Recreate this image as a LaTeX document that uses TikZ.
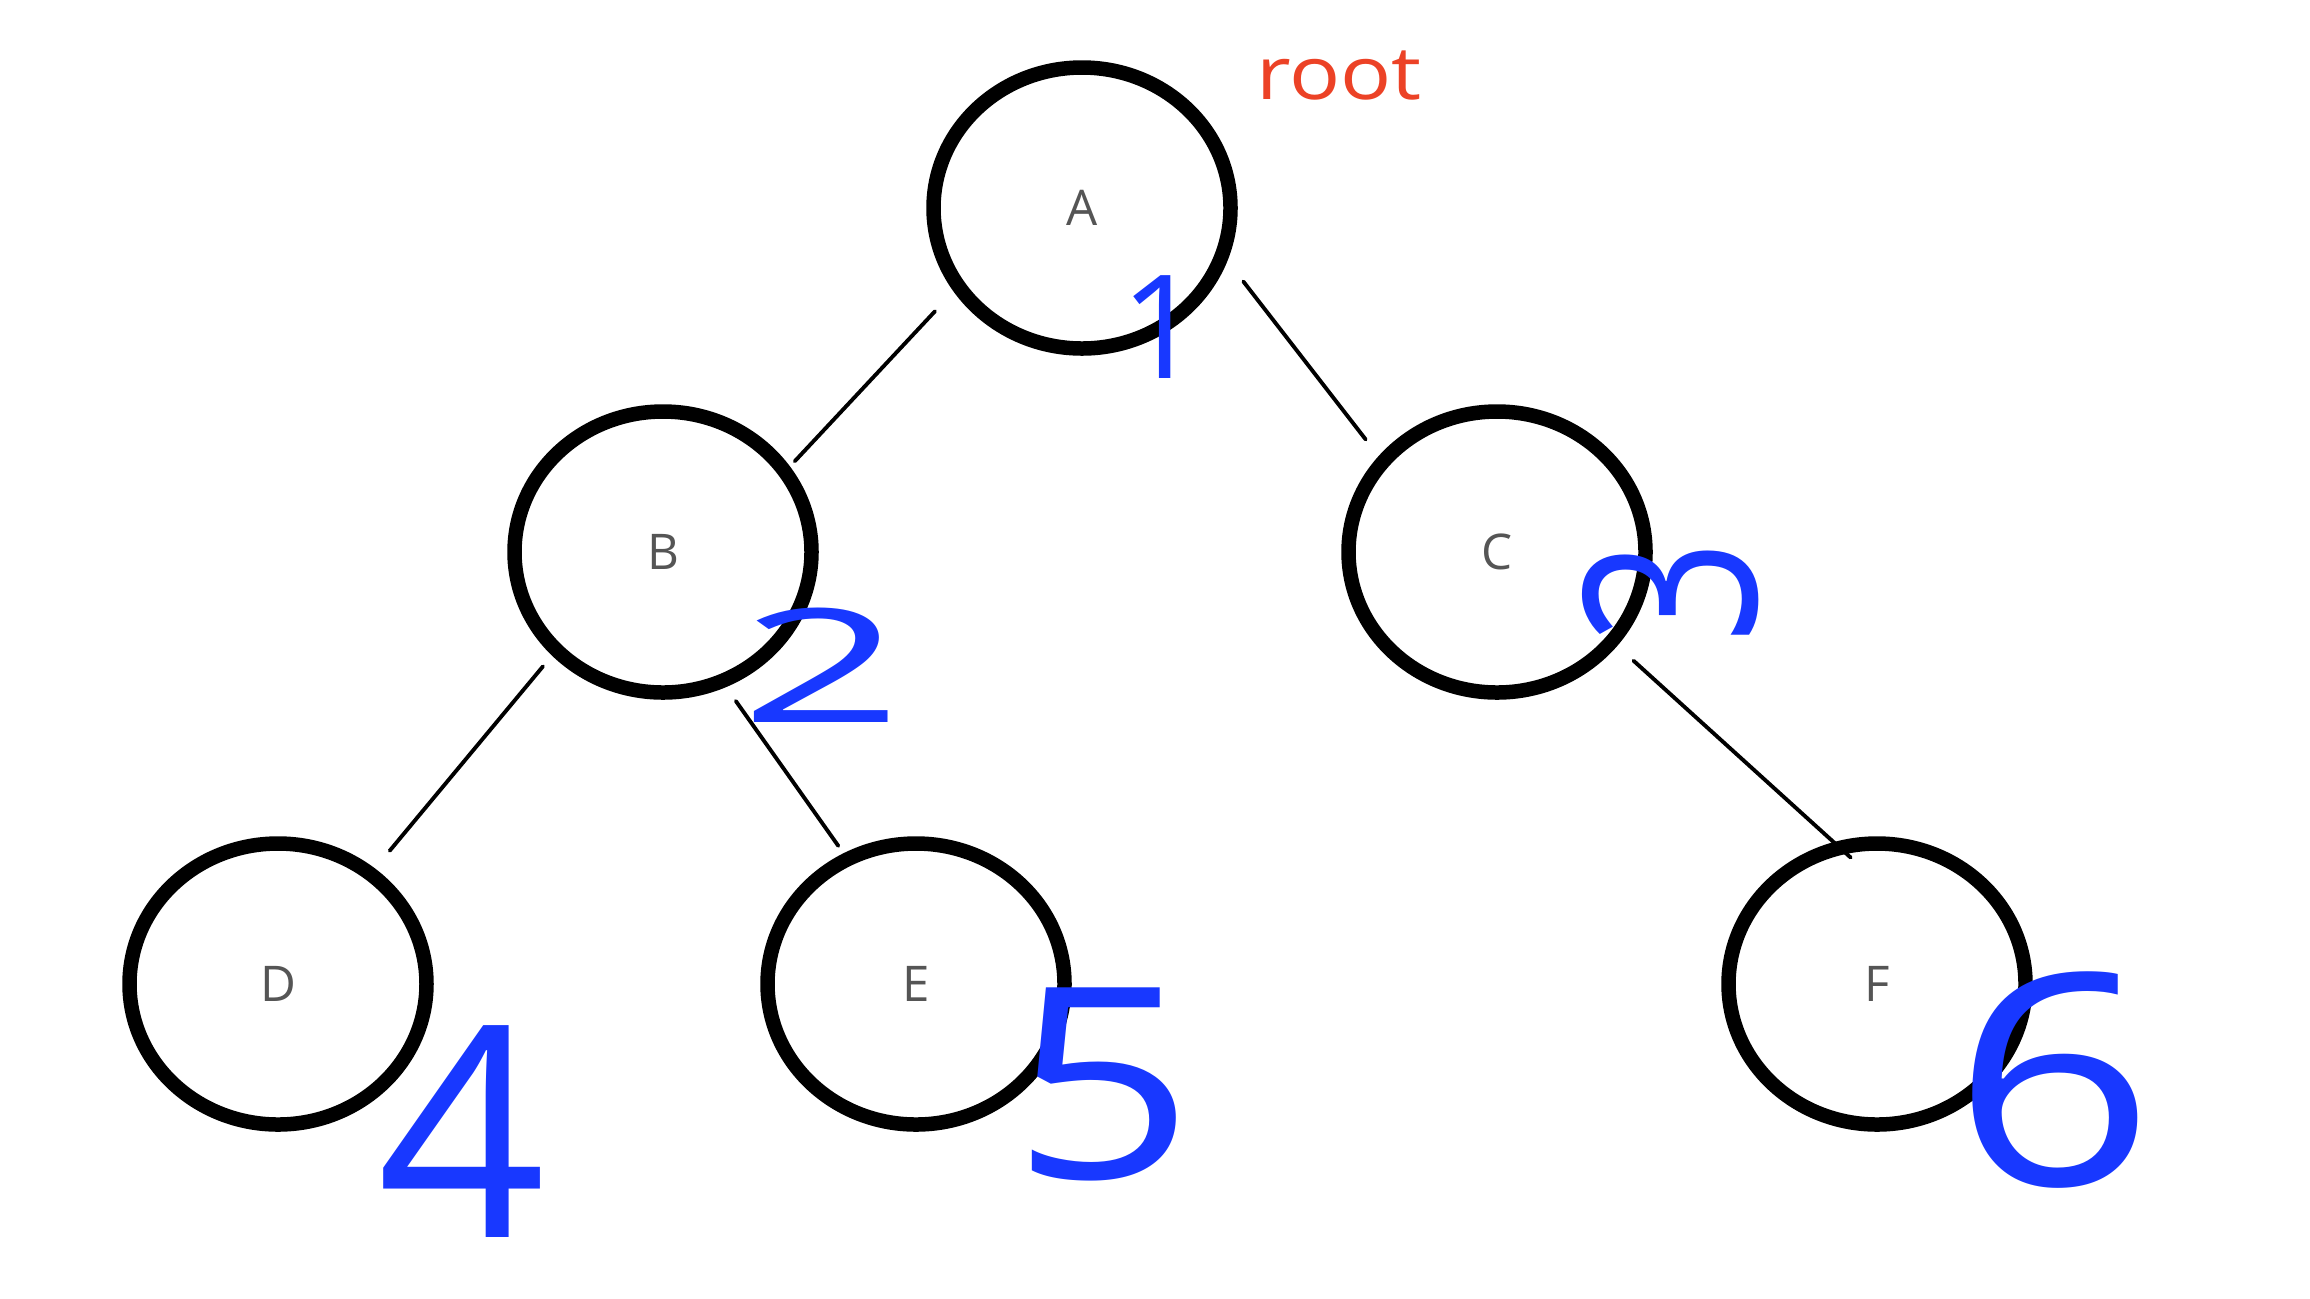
\documentclass[tikz,border=0pt]{standalone}
\usepackage{fontspec}
\setmainfont{Open Sans}
\usepackage{graphicx}
\usetikzlibrary{shapes.geometric}
\definecolor{inkblue}{RGB}{24,56,255}
\definecolor{inkred}{RGB}{236,66,38}
\definecolor{labelgray}{RGB}{85,85,85}

\begin{document}
\begin{tikzpicture}[
  treenode/.style={draw=black, ellipse, line width=0.145cm, minimum width=2.97cm,
    minimum height=2.81cm, inner sep=0pt, text=labelgray, font=\fontsize{14}{16}\selectfont},
  edge/.style={line width=1.1pt, line cap=round},
  order/.style={text=inkblue, inner sep=0pt}
]
\useasboundingbox (0,0) rectangle (23.1,-12.98);
% the tree
\node[treenode] (A) at (10.82,-2.08) {A};
\node[treenode] (B) at (6.63,-5.52) {B};
\node[treenode] (C) at (14.97,-5.52) {C};
\node[treenode] (D) at (2.78,-9.84) {D};
\node[treenode] (E) at (9.16,-9.84) {E};
\node[treenode] (F) at (18.77,-9.84) {F};
\draw[edge, shorten <=0.27cm, shorten >=0.07cm] (A.213) -- (B.34);
\draw[edge, shorten <=0.26cm, shorten >=0.21cm] (A.340) -- (C.141);
\draw[edge, shorten <=0.14cm, shorten >=0.23cm] (B.223) -- (D.50);
\draw[edge, shorten <=0.17cm, shorten >=0.09cm] (B.295) -- (E.119);
\draw[edge, shorten <=0.22cm, shorten >=-0.23cm] (C.322) -- (F.107);
% root mark and visiting order
\node[text=inkred, inner sep=0pt, font=\fontsize{21}{21}\selectfont] (rootlabel) at (13.39,-0.76) {\scalebox{1.15}[1]{root}};
\node[order, font=\fontsize{41}{41}\selectfont] (n1) at (11.62,-3.27) {1};
\node[order, font=\fontsize{45}{45}\selectfont] (n2) at (8.22,-6.65) {\scalebox{1.8}[1]{2}};
\node[order, font=\fontsize{57}{57}\selectfont, rotate=90] (n3) at (16.71,-5.92) {\scalebox{0.9}[1.2]{3}};
\node[order, font=\fontsize{84}{84}\selectfont] (n4) at (4.62,-11.32) {4};
\node[order, font=\fontsize{76}{76}\selectfont] (n5) at (11.03,-10.84) {\scalebox{1.2}[1]{5}};
\node[order, font=\fontsize{84}{84}\selectfont] (n6) at (20.54,-10.80) {\scalebox{1.2}[1]{6}};
\end{tikzpicture}
\end{document}
